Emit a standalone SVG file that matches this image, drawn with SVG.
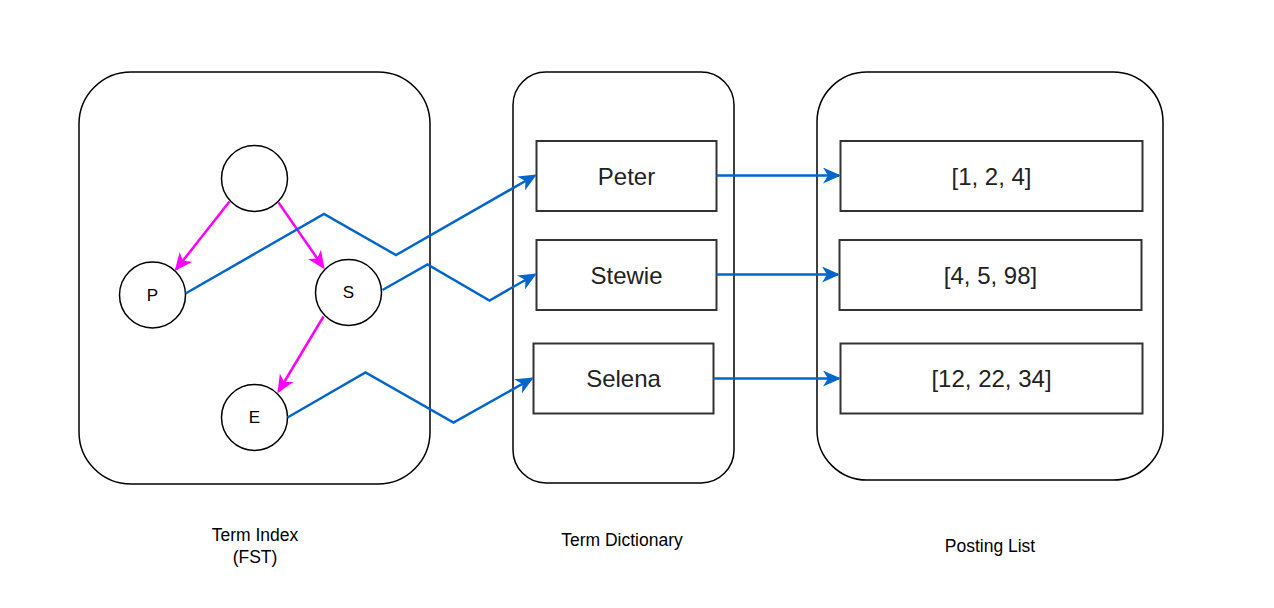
<svg xmlns="http://www.w3.org/2000/svg" width="1274" height="608" viewBox="0 0 1274 608">
<style>
.cont{fill:#fff;stroke:#000;stroke-width:1.5}
.box{fill:#fff;stroke:#333;stroke-width:2}
.circ{fill:#fff;stroke:#000;stroke-width:1.5}
.bt{font-family:"Liberation Sans",Arial,sans-serif;font-size:24px;fill:#222;text-anchor:middle;dominant-baseline:central}
.ct{font-family:"Liberation Sans",Arial,sans-serif;font-size:17px;fill:#000;text-anchor:middle;dominant-baseline:central}
.lt{font-family:"Liberation Sans",Arial,sans-serif;font-size:17.5px;fill:#000;text-anchor:middle}
.blue{fill:none;stroke:#0066CC;stroke-width:2.5;marker-end:url(#ab)}
.pink{fill:none;stroke:#FF00FF;stroke-width:2.5;marker-end:url(#ap)}
</style>
<defs>
<marker id="ab" viewBox="0 0 18 16" refX="16" refY="8" markerWidth="18" markerHeight="16" markerUnits="userSpaceOnUse" orient="auto"><path d="M0,0 L18,8 L0,16 L5,8 z" fill="#0066CC"/></marker>
<marker id="ap" viewBox="0 0 18 16" refX="16" refY="8" markerWidth="18" markerHeight="16" markerUnits="userSpaceOnUse" orient="auto"><path d="M0,0 L18,8 L0,16 L5,8 z" fill="#FF00FF"/></marker>
</defs>
<rect width="1274" height="608" fill="#fff"/>
<g id="term-index"><rect class="cont" x="79" y="72" width="351" height="412" rx="52" ry="52"/></g>
<g id="term-dictionary"><rect class="cont" x="513" y="72" width="221" height="411" rx="33" ry="33"/></g>
<g id="posting-list"><rect class="cont" x="817" y="72" width="346" height="408" rx="50" ry="50"/></g>
<g id="root"><circle class="circ" cx="254.5" cy="178.5" r="33"/></g>
<g id="node-p"><circle class="circ" cx="152.5" cy="295" r="33"/><text class="ct" x="152.5" y="295">P</text></g>
<g id="node-s"><circle class="circ" cx="348.5" cy="292.5" r="33"/><text class="ct" x="348.5" y="292.5">S</text></g>
<g id="node-e"><circle class="circ" cx="254.5" cy="417.5" r="33"/><text class="ct" x="254.5" y="417.5">E</text></g>
<g id="peter"><rect class="box" x="536.5" y="141" width="180" height="70"/><text class="bt" x="626.5" y="176">Peter</text></g>
<g id="stewie"><rect class="box" x="536.5" y="240" width="180" height="70"/><text class="bt" x="626.5" y="275">Stewie</text></g>
<g id="selena"><rect class="box" x="533.5" y="343.5" width="180" height="70"/><text class="bt" x="623.5" y="378.5">Selena</text></g>
<g id="pl1"><rect class="box" x="840.5" y="141" width="302" height="70"/><text class="bt" x="991.5" y="176">[1, 2, 4]</text></g>
<g id="pl2"><rect class="box" x="839.5" y="240" width="302" height="70"/><text class="bt" x="990.5" y="275">[4, 5, 98]</text></g>
<g id="pl3"><rect class="box" x="840.5" y="343.5" width="302" height="70"/><text class="bt" x="991.5" y="378.5">[12, 22, 34]</text></g>
<g id="labels">
<text class="lt" x="255" y="541">Term Index</text>
<text class="lt" x="255" y="563">(FST)</text>
<text class="lt" x="622" y="546">Term Dictionary</text>
<text class="lt" x="990" y="552">Posting List</text>
</g>
<g id="connectors">
<path class="pink" d="M229.5,201.5 L176,269.5"/>
<path class="pink" d="M278.5,202.5 L323.5,267.5"/>
<path class="pink" d="M323.5,316.5 L278.5,391.5"/>
<path class="blue" d="M185.5,293.5 L324,214 L396,255 L535,175.5"/>
<path class="blue" d="M382.5,290 L427.5,264.5 L489.5,300.5 L535,274.5"/>
<path class="blue" d="M287.5,417.5 L365.5,372.5 L453.5,422.5 L532,378.5"/>
<path class="blue" d="M716.5,175.5 L839,175.5"/>
<path class="blue" d="M716.5,274.5 L838,274.5"/>
<path class="blue" d="M713.5,378.5 L839,378.5"/>
</g>
</svg>
